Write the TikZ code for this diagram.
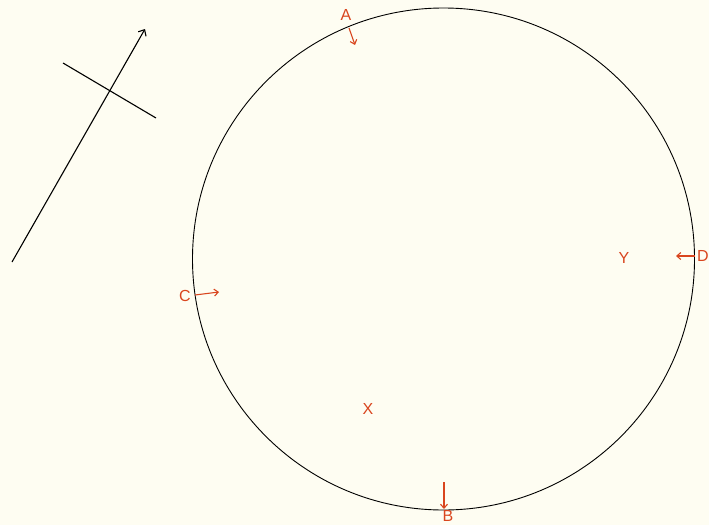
\documentclass[tikz,border=0pt]{standalone}
\usepackage{fontspec}
\setmainfont{Liberation Sans}
\usetikzlibrary{arrows.meta}
\definecolor{paper}{HTML}{FEFDF2}
\definecolor{redink}{HTML}{D9451E}
\tikzset{
  lbl/.style={text=redink, font=\fontsize{16}{16}\selectfont, inner sep=0pt},
  redarrow/.style={draw=redink, line width=1.1pt, -{Straight Barb[length=4pt,width=7pt]}},
  blackline/.style={draw=black, line width=1.1pt},
}
\begin{document}
\begin{tikzpicture}[x=1pt,y=-1pt]
\fill[paper] (0,0) rectangle (709,525);
\useasboundingbox (0,0) rectangle (709,525);
% main circle
\node[circle, draw, line width=0.9pt, minimum size=502pt, inner sep=0pt] (disk) at (443.5,259) {};
% north arrow
\coordinate (ntail) at (12,262);
\coordinate (nhead) at (145,29);
\coordinate (cr1) at (63,63);
\coordinate (cr2) at (156,118);
\draw[blackline, -{Straight Barb[length=5pt,width=9pt]}] (ntail) -- (nhead);
\draw[blackline] (cr1) -- (cr2);
% labels
\node[lbl] (A) at (346,15) {A};
\node[lbl] (B) at (448,515.5) {B};
\node[lbl] (C) at (185,296) {C};
\node[lbl] (D) at (703,256) {D};
\node[lbl] (Y) at (624,258) {Y};
\node[lbl] (X) at (368,409) {X};
% red arrows
\coordinate (a1) at (349,28);
\coordinate (a2) at (355,45);
\coordinate (b1) at (444,482);
\coordinate (b2) at (444,509);
\coordinate (c1) at (195,295);
\coordinate (c2) at (219,292);
\coordinate (d1) at (695,256);
\coordinate (d2) at (676,256);
\draw[redarrow] (a1) -- (a2);
\draw[redarrow] (b1) -- (b2);
\draw[redarrow] (c1) -- (c2);
\draw[redarrow] (d1) -- (d2);
\end{tikzpicture}
\end{document}
